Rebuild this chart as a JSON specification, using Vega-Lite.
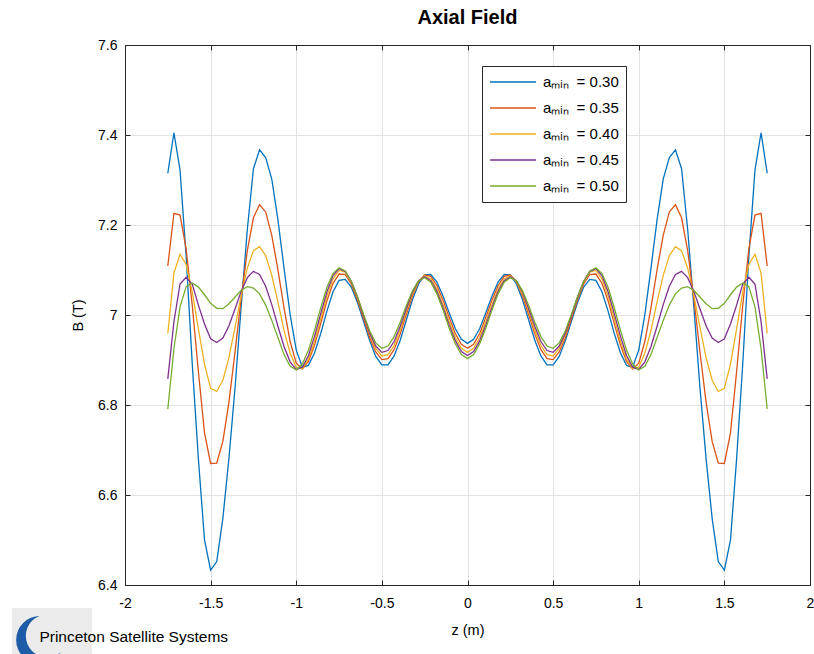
{
"$schema":"https://vega.github.io/schema/vega-lite/v6.json",
"autosize":{"type":"none"},
"padding":{"left":125,"top":45,"right":4,"bottom":69},
"width":685,"height":540,
"background":"white",
"config":{"font":"Liberation Sans","view":{"stroke":null}},
"title":{"text":"Axial Field","fontSize":20,"fontWeight":"bold","color":"black","offset":10,"anchor":"middle"},
"data":{"values":[
{"s":"0.30","z":-1.75,"B":7.315},{"s":"0.30","z":-1.7143,"B":7.405},{"s":"0.30","z":-1.6786,"B":7.322},{"s":"0.30","z":-1.6429,"B":7.13},{"s":"0.30","z":-1.6071,"B":6.89},{"s":"0.30","z":-1.5714,"B":6.68},{"s":"0.30","z":-1.5357,"B":6.5},{"s":"0.30","z":-1.5,"B":6.433},{"s":"0.30","z":-1.4643,"B":6.452},{"s":"0.30","z":-1.4286,"B":6.548},{"s":"0.30","z":-1.3929,"B":6.682},{"s":"0.30","z":-1.3571,"B":6.84},{"s":"0.30","z":-1.3214,"B":7.02},{"s":"0.30","z":-1.2857,"B":7.19},{"s":"0.30","z":-1.25,"B":7.325},{"s":"0.30","z":-1.2143,"B":7.367},{"s":"0.30","z":-1.1786,"B":7.35},{"s":"0.30","z":-1.1429,"B":7.302},{"s":"0.30","z":-1.1071,"B":7.212},{"s":"0.30","z":-1.0714,"B":7.104},{"s":"0.30","z":-1.0357,"B":7.001},{"s":"0.30","z":-1,"B":6.922},{"s":"0.30","z":-0.9643,"B":6.884},{"s":"0.30","z":-0.9286,"B":6.888},{"s":"0.30","z":-0.8929,"B":6.916},{"s":"0.30","z":-0.8571,"B":6.959},{"s":"0.30","z":-0.8214,"B":7.008},{"s":"0.30","z":-0.7857,"B":7.051},{"s":"0.30","z":-0.75,"B":7.077},{"s":"0.30","z":-0.7143,"B":7.079},{"s":"0.30","z":-0.6786,"B":7.062},{"s":"0.30","z":-0.6429,"B":7.028},{"s":"0.30","z":-0.6071,"B":6.986},{"s":"0.30","z":-0.5714,"B":6.943},{"s":"0.30","z":-0.5357,"B":6.908},{"s":"0.30","z":-0.5,"B":6.889},{"s":"0.30","z":-0.4643,"B":6.889},{"s":"0.30","z":-0.4286,"B":6.909},{"s":"0.30","z":-0.3929,"B":6.944},{"s":"0.30","z":-0.3571,"B":6.989},{"s":"0.30","z":-0.3214,"B":7.034},{"s":"0.30","z":-0.2857,"B":7.069},{"s":"0.30","z":-0.25,"B":7.089},{"s":"0.30","z":-0.2143,"B":7.09},{"s":"0.30","z":-0.1786,"B":7.073},{"s":"0.30","z":-0.1429,"B":7.042},{"s":"0.30","z":-0.1071,"B":7.005},{"s":"0.30","z":-0.0714,"B":6.97},{"s":"0.30","z":-0.0357,"B":6.946},{"s":"0.30","z":0,"B":6.937},
{"s":"0.30","z":0.0357,"B":6.946},{"s":"0.30","z":0.0714,"B":6.97},{"s":"0.30","z":0.1071,"B":7.005},{"s":"0.30","z":0.1429,"B":7.042},{"s":"0.30","z":0.1786,"B":7.073},{"s":"0.30","z":0.2143,"B":7.09},{"s":"0.30","z":0.25,"B":7.089},{"s":"0.30","z":0.2857,"B":7.069},{"s":"0.30","z":0.3214,"B":7.034},{"s":"0.30","z":0.3571,"B":6.989},{"s":"0.30","z":0.3929,"B":6.944},{"s":"0.30","z":0.4286,"B":6.909},{"s":"0.30","z":0.4643,"B":6.889},{"s":"0.30","z":0.5,"B":6.889},{"s":"0.30","z":0.5357,"B":6.908},{"s":"0.30","z":0.5714,"B":6.943},{"s":"0.30","z":0.6071,"B":6.986},{"s":"0.30","z":0.6429,"B":7.028},{"s":"0.30","z":0.6786,"B":7.062},{"s":"0.30","z":0.7143,"B":7.079},{"s":"0.30","z":0.75,"B":7.077},{"s":"0.30","z":0.7857,"B":7.051},{"s":"0.30","z":0.8214,"B":7.008},{"s":"0.30","z":0.8571,"B":6.959},{"s":"0.30","z":0.8929,"B":6.916},{"s":"0.30","z":0.9286,"B":6.888},{"s":"0.30","z":0.9643,"B":6.884},{"s":"0.30","z":1,"B":6.922},{"s":"0.30","z":1.0357,"B":7.001},{"s":"0.30","z":1.0714,"B":7.104},{"s":"0.30","z":1.1071,"B":7.212},{"s":"0.30","z":1.1429,"B":7.302},{"s":"0.30","z":1.1786,"B":7.35},{"s":"0.30","z":1.2143,"B":7.367},{"s":"0.30","z":1.25,"B":7.325},{"s":"0.30","z":1.2857,"B":7.19},{"s":"0.30","z":1.3214,"B":7.02},{"s":"0.30","z":1.3571,"B":6.84},{"s":"0.30","z":1.3929,"B":6.682},{"s":"0.30","z":1.4286,"B":6.548},{"s":"0.30","z":1.4643,"B":6.452},{"s":"0.30","z":1.5,"B":6.433},{"s":"0.30","z":1.5357,"B":6.5},{"s":"0.30","z":1.5714,"B":6.68},{"s":"0.30","z":1.6071,"B":6.89},{"s":"0.30","z":1.6429,"B":7.13},{"s":"0.30","z":1.6786,"B":7.322},{"s":"0.30","z":1.7143,"B":7.405},{"s":"0.30","z":1.75,"B":7.315},
{"s":"0.35","z":-1.75,"B":7.109},{"s":"0.35","z":-1.7143,"B":7.226},{"s":"0.35","z":-1.6786,"B":7.222},{"s":"0.35","z":-1.6429,"B":7.147},{"s":"0.35","z":-1.6071,"B":7.021},{"s":"0.35","z":-1.5714,"B":6.874},{"s":"0.35","z":-1.5357,"B":6.738},{"s":"0.35","z":-1.5,"B":6.67},{"s":"0.35","z":-1.4643,"B":6.671},{"s":"0.35","z":-1.4286,"B":6.719},{"s":"0.35","z":-1.3929,"B":6.807},{"s":"0.35","z":-1.3571,"B":6.919},{"s":"0.35","z":-1.3214,"B":7.038},{"s":"0.35","z":-1.2857,"B":7.143},{"s":"0.35","z":-1.25,"B":7.216},{"s":"0.35","z":-1.2143,"B":7.245},{"s":"0.35","z":-1.1786,"B":7.229},{"s":"0.35","z":-1.1429,"B":7.177},{"s":"0.35","z":-1.1071,"B":7.101},{"s":"0.35","z":-1.0714,"B":7.016},{"s":"0.35","z":-1.0357,"B":6.941},{"s":"0.35","z":-1,"B":6.893},{"s":"0.35","z":-0.9643,"B":6.88},{"s":"0.35","z":-0.9286,"B":6.897},{"s":"0.35","z":-0.8929,"B":6.933},{"s":"0.35","z":-0.8571,"B":6.981},{"s":"0.35","z":-0.8214,"B":7.031},{"s":"0.35","z":-0.7857,"B":7.07},{"s":"0.35","z":-0.75,"B":7.091},{"s":"0.35","z":-0.7143,"B":7.09},{"s":"0.35","z":-0.6786,"B":7.069},{"s":"0.35","z":-0.6429,"B":7.034},{"s":"0.35","z":-0.6071,"B":6.992},{"s":"0.35","z":-0.5714,"B":6.95},{"s":"0.35","z":-0.5357,"B":6.918},{"s":"0.35","z":-0.5,"B":6.901},{"s":"0.35","z":-0.4643,"B":6.903},{"s":"0.35","z":-0.4286,"B":6.923},{"s":"0.35","z":-0.3929,"B":6.958},{"s":"0.35","z":-0.3571,"B":7.001},{"s":"0.35","z":-0.3214,"B":7.042},{"s":"0.35","z":-0.2857,"B":7.074},{"s":"0.35","z":-0.25,"B":7.089},{"s":"0.35","z":-0.2143,"B":7.086},{"s":"0.35","z":-0.1786,"B":7.065},{"s":"0.35","z":-0.1429,"B":7.033},{"s":"0.35","z":-0.1071,"B":6.995},{"s":"0.35","z":-0.0714,"B":6.959},{"s":"0.35","z":-0.0357,"B":6.935},{"s":"0.35","z":0,"B":6.926},
{"s":"0.35","z":0.0357,"B":6.935},{"s":"0.35","z":0.0714,"B":6.959},{"s":"0.35","z":0.1071,"B":6.995},{"s":"0.35","z":0.1429,"B":7.033},{"s":"0.35","z":0.1786,"B":7.065},{"s":"0.35","z":0.2143,"B":7.086},{"s":"0.35","z":0.25,"B":7.089},{"s":"0.35","z":0.2857,"B":7.074},{"s":"0.35","z":0.3214,"B":7.042},{"s":"0.35","z":0.3571,"B":7.001},{"s":"0.35","z":0.3929,"B":6.958},{"s":"0.35","z":0.4286,"B":6.923},{"s":"0.35","z":0.4643,"B":6.903},{"s":"0.35","z":0.5,"B":6.901},{"s":"0.35","z":0.5357,"B":6.918},{"s":"0.35","z":0.5714,"B":6.95},{"s":"0.35","z":0.6071,"B":6.992},{"s":"0.35","z":0.6429,"B":7.034},{"s":"0.35","z":0.6786,"B":7.069},{"s":"0.35","z":0.7143,"B":7.09},{"s":"0.35","z":0.75,"B":7.091},{"s":"0.35","z":0.7857,"B":7.07},{"s":"0.35","z":0.8214,"B":7.031},{"s":"0.35","z":0.8571,"B":6.981},{"s":"0.35","z":0.8929,"B":6.933},{"s":"0.35","z":0.9286,"B":6.897},{"s":"0.35","z":0.9643,"B":6.88},{"s":"0.35","z":1,"B":6.893},{"s":"0.35","z":1.0357,"B":6.941},{"s":"0.35","z":1.0714,"B":7.016},{"s":"0.35","z":1.1071,"B":7.101},{"s":"0.35","z":1.1429,"B":7.177},{"s":"0.35","z":1.1786,"B":7.229},{"s":"0.35","z":1.2143,"B":7.245},{"s":"0.35","z":1.25,"B":7.216},{"s":"0.35","z":1.2857,"B":7.143},{"s":"0.35","z":1.3214,"B":7.038},{"s":"0.35","z":1.3571,"B":6.919},{"s":"0.35","z":1.3929,"B":6.807},{"s":"0.35","z":1.4286,"B":6.719},{"s":"0.35","z":1.4643,"B":6.671},{"s":"0.35","z":1.5,"B":6.67},{"s":"0.35","z":1.5357,"B":6.738},{"s":"0.35","z":1.5714,"B":6.874},{"s":"0.35","z":1.6071,"B":7.021},{"s":"0.35","z":1.6429,"B":7.147},{"s":"0.35","z":1.6786,"B":7.222},{"s":"0.35","z":1.7143,"B":7.226},{"s":"0.35","z":1.75,"B":7.109},
{"s":"0.40","z":-1.75,"B":6.959},{"s":"0.40","z":-1.7143,"B":7.093},{"s":"0.40","z":-1.6786,"B":7.135},{"s":"0.40","z":-1.6429,"B":7.112},{"s":"0.40","z":-1.6071,"B":7.051},{"s":"0.40","z":-1.5714,"B":6.969},{"s":"0.40","z":-1.5357,"B":6.891},{"s":"0.40","z":-1.5,"B":6.837},{"s":"0.40","z":-1.4643,"B":6.83},{"s":"0.40","z":-1.4286,"B":6.855},{"s":"0.40","z":-1.3929,"B":6.906},{"s":"0.40","z":-1.3571,"B":6.973},{"s":"0.40","z":-1.3214,"B":7.044},{"s":"0.40","z":-1.2857,"B":7.104},{"s":"0.40","z":-1.25,"B":7.143},{"s":"0.40","z":-1.2143,"B":7.152},{"s":"0.40","z":-1.1786,"B":7.132},{"s":"0.40","z":-1.1429,"B":7.088},{"s":"0.40","z":-1.1071,"B":7.029},{"s":"0.40","z":-1.0714,"B":6.966},{"s":"0.40","z":-1.0357,"B":6.915},{"s":"0.40","z":-1,"B":6.884},{"s":"0.40","z":-0.9643,"B":6.881},{"s":"0.40","z":-0.9286,"B":6.902},{"s":"0.40","z":-0.8929,"B":6.942},{"s":"0.40","z":-0.8571,"B":6.992},{"s":"0.40","z":-0.8214,"B":7.042},{"s":"0.40","z":-0.7857,"B":7.08},{"s":"0.40","z":-0.75,"B":7.099},{"s":"0.40","z":-0.7143,"B":7.095},{"s":"0.40","z":-0.6786,"B":7.074},{"s":"0.40","z":-0.6429,"B":7.039},{"s":"0.40","z":-0.6071,"B":6.998},{"s":"0.40","z":-0.5714,"B":6.957},{"s":"0.40","z":-0.5357,"B":6.926},{"s":"0.40","z":-0.5,"B":6.909},{"s":"0.40","z":-0.4643,"B":6.912},{"s":"0.40","z":-0.4286,"B":6.932},{"s":"0.40","z":-0.3929,"B":6.967},{"s":"0.40","z":-0.3571,"B":7.008},{"s":"0.40","z":-0.3214,"B":7.047},{"s":"0.40","z":-0.2857,"B":7.075},{"s":"0.40","z":-0.25,"B":7.087},{"s":"0.40","z":-0.2143,"B":7.08},{"s":"0.40","z":-0.1786,"B":7.057},{"s":"0.40","z":-0.1429,"B":7.023},{"s":"0.40","z":-0.1071,"B":6.985},{"s":"0.40","z":-0.0714,"B":6.95},{"s":"0.40","z":-0.0357,"B":6.926},{"s":"0.40","z":0,"B":6.917},
{"s":"0.40","z":0.0357,"B":6.926},{"s":"0.40","z":0.0714,"B":6.95},{"s":"0.40","z":0.1071,"B":6.985},{"s":"0.40","z":0.1429,"B":7.023},{"s":"0.40","z":0.1786,"B":7.057},{"s":"0.40","z":0.2143,"B":7.08},{"s":"0.40","z":0.25,"B":7.087},{"s":"0.40","z":0.2857,"B":7.075},{"s":"0.40","z":0.3214,"B":7.047},{"s":"0.40","z":0.3571,"B":7.008},{"s":"0.40","z":0.3929,"B":6.967},{"s":"0.40","z":0.4286,"B":6.932},{"s":"0.40","z":0.4643,"B":6.912},{"s":"0.40","z":0.5,"B":6.909},{"s":"0.40","z":0.5357,"B":6.926},{"s":"0.40","z":0.5714,"B":6.957},{"s":"0.40","z":0.6071,"B":6.998},{"s":"0.40","z":0.6429,"B":7.039},{"s":"0.40","z":0.6786,"B":7.074},{"s":"0.40","z":0.7143,"B":7.095},{"s":"0.40","z":0.75,"B":7.099},{"s":"0.40","z":0.7857,"B":7.08},{"s":"0.40","z":0.8214,"B":7.042},{"s":"0.40","z":0.8571,"B":6.992},{"s":"0.40","z":0.8929,"B":6.942},{"s":"0.40","z":0.9286,"B":6.902},{"s":"0.40","z":0.9643,"B":6.881},{"s":"0.40","z":1,"B":6.884},{"s":"0.40","z":1.0357,"B":6.915},{"s":"0.40","z":1.0714,"B":6.966},{"s":"0.40","z":1.1071,"B":7.029},{"s":"0.40","z":1.1429,"B":7.088},{"s":"0.40","z":1.1786,"B":7.132},{"s":"0.40","z":1.2143,"B":7.152},{"s":"0.40","z":1.25,"B":7.143},{"s":"0.40","z":1.2857,"B":7.104},{"s":"0.40","z":1.3214,"B":7.044},{"s":"0.40","z":1.3571,"B":6.973},{"s":"0.40","z":1.3929,"B":6.906},{"s":"0.40","z":1.4286,"B":6.855},{"s":"0.40","z":1.4643,"B":6.83},{"s":"0.40","z":1.5,"B":6.837},{"s":"0.40","z":1.5357,"B":6.891},{"s":"0.40","z":1.5714,"B":6.969},{"s":"0.40","z":1.6071,"B":7.051},{"s":"0.40","z":1.6429,"B":7.112},{"s":"0.40","z":1.6786,"B":7.135},{"s":"0.40","z":1.7143,"B":7.093},{"s":"0.40","z":1.75,"B":6.959},
{"s":"0.45","z":-1.75,"B":6.858},{"s":"0.45","z":-1.7143,"B":6.985},{"s":"0.45","z":-1.6786,"B":7.069},{"s":"0.45","z":-1.6429,"B":7.084},{"s":"0.45","z":-1.6071,"B":7.068},{"s":"0.45","z":-1.5714,"B":7.022},{"s":"0.45","z":-1.5357,"B":6.98},{"s":"0.45","z":-1.5,"B":6.947},{"s":"0.45","z":-1.4643,"B":6.939},{"s":"0.45","z":-1.4286,"B":6.949},{"s":"0.45","z":-1.3929,"B":6.976},{"s":"0.45","z":-1.3571,"B":7.014},{"s":"0.45","z":-1.3214,"B":7.053},{"s":"0.45","z":-1.2857,"B":7.083},{"s":"0.45","z":-1.25,"B":7.097},{"s":"0.45","z":-1.2143,"B":7.09},{"s":"0.45","z":-1.1786,"B":7.064},{"s":"0.45","z":-1.1429,"B":7.023},{"s":"0.45","z":-1.1071,"B":6.975},{"s":"0.45","z":-1.0714,"B":6.93},{"s":"0.45","z":-1.0357,"B":6.896},{"s":"0.45","z":-1,"B":6.879},{"s":"0.45","z":-0.9643,"B":6.884},{"s":"0.45","z":-0.9286,"B":6.91},{"s":"0.45","z":-0.8929,"B":6.953},{"s":"0.45","z":-0.8571,"B":7.003},{"s":"0.45","z":-0.8214,"B":7.051},{"s":"0.45","z":-0.7857,"B":7.087},{"s":"0.45","z":-0.75,"B":7.103},{"s":"0.45","z":-0.7143,"B":7.097},{"s":"0.45","z":-0.6786,"B":7.075},{"s":"0.45","z":-0.6429,"B":7.04},{"s":"0.45","z":-0.6071,"B":6.999},{"s":"0.45","z":-0.5714,"B":6.96},{"s":"0.45","z":-0.5357,"B":6.931},{"s":"0.45","z":-0.5,"B":6.917},{"s":"0.45","z":-0.4643,"B":6.921},{"s":"0.45","z":-0.4286,"B":6.941},{"s":"0.45","z":-0.3929,"B":6.975},{"s":"0.45","z":-0.3571,"B":7.014},{"s":"0.45","z":-0.3214,"B":7.051},{"s":"0.45","z":-0.2857,"B":7.076},{"s":"0.45","z":-0.25,"B":7.085},{"s":"0.45","z":-0.2143,"B":7.076},{"s":"0.45","z":-0.1786,"B":7.052},{"s":"0.45","z":-0.1429,"B":7.017},{"s":"0.45","z":-0.1071,"B":6.978},{"s":"0.45","z":-0.0714,"B":6.943},{"s":"0.45","z":-0.0357,"B":6.919},{"s":"0.45","z":0,"B":6.91},
{"s":"0.45","z":0.0357,"B":6.919},{"s":"0.45","z":0.0714,"B":6.943},{"s":"0.45","z":0.1071,"B":6.978},{"s":"0.45","z":0.1429,"B":7.017},{"s":"0.45","z":0.1786,"B":7.052},{"s":"0.45","z":0.2143,"B":7.076},{"s":"0.45","z":0.25,"B":7.085},{"s":"0.45","z":0.2857,"B":7.076},{"s":"0.45","z":0.3214,"B":7.051},{"s":"0.45","z":0.3571,"B":7.014},{"s":"0.45","z":0.3929,"B":6.975},{"s":"0.45","z":0.4286,"B":6.941},{"s":"0.45","z":0.4643,"B":6.921},{"s":"0.45","z":0.5,"B":6.917},{"s":"0.45","z":0.5357,"B":6.931},{"s":"0.45","z":0.5714,"B":6.96},{"s":"0.45","z":0.6071,"B":6.999},{"s":"0.45","z":0.6429,"B":7.04},{"s":"0.45","z":0.6786,"B":7.075},{"s":"0.45","z":0.7143,"B":7.097},{"s":"0.45","z":0.75,"B":7.103},{"s":"0.45","z":0.7857,"B":7.087},{"s":"0.45","z":0.8214,"B":7.051},{"s":"0.45","z":0.8571,"B":7.003},{"s":"0.45","z":0.8929,"B":6.953},{"s":"0.45","z":0.9286,"B":6.91},{"s":"0.45","z":0.9643,"B":6.884},{"s":"0.45","z":1,"B":6.879},{"s":"0.45","z":1.0357,"B":6.896},{"s":"0.45","z":1.0714,"B":6.93},{"s":"0.45","z":1.1071,"B":6.975},{"s":"0.45","z":1.1429,"B":7.023},{"s":"0.45","z":1.1786,"B":7.064},{"s":"0.45","z":1.2143,"B":7.09},{"s":"0.45","z":1.25,"B":7.097},{"s":"0.45","z":1.2857,"B":7.083},{"s":"0.45","z":1.3214,"B":7.053},{"s":"0.45","z":1.3571,"B":7.014},{"s":"0.45","z":1.3929,"B":6.976},{"s":"0.45","z":1.4286,"B":6.949},{"s":"0.45","z":1.4643,"B":6.939},{"s":"0.45","z":1.5,"B":6.947},{"s":"0.45","z":1.5357,"B":6.98},{"s":"0.45","z":1.5714,"B":7.022},{"s":"0.45","z":1.6071,"B":7.068},{"s":"0.45","z":1.6429,"B":7.084},{"s":"0.45","z":1.6786,"B":7.069},{"s":"0.45","z":1.7143,"B":6.985},{"s":"0.45","z":1.75,"B":6.858},
{"s":"0.50","z":-1.75,"B":6.791},{"s":"0.50","z":-1.7143,"B":6.925},{"s":"0.50","z":-1.6786,"B":7.018},{"s":"0.50","z":-1.6429,"B":7.063},{"s":"0.50","z":-1.6071,"B":7.071},{"s":"0.50","z":-1.5714,"B":7.062},{"s":"0.50","z":-1.5357,"B":7.045},{"s":"0.50","z":-1.5,"B":7.026},{"s":"0.50","z":-1.4643,"B":7.015},{"s":"0.50","z":-1.4286,"B":7.014},{"s":"0.50","z":-1.3929,"B":7.025},{"s":"0.50","z":-1.3571,"B":7.04},{"s":"0.50","z":-1.3214,"B":7.055},{"s":"0.50","z":-1.2857,"B":7.063},{"s":"0.50","z":-1.25,"B":7.06},{"s":"0.50","z":-1.2143,"B":7.047},{"s":"0.50","z":-1.1786,"B":7.022},{"s":"0.50","z":-1.1429,"B":6.988},{"s":"0.50","z":-1.1071,"B":6.95},{"s":"0.50","z":-1.0714,"B":6.912},{"s":"0.50","z":-1.0357,"B":6.886},{"s":"0.50","z":-1,"B":6.878},{"s":"0.50","z":-0.9643,"B":6.891},{"s":"0.50","z":-0.9286,"B":6.922},{"s":"0.50","z":-0.8929,"B":6.967},{"s":"0.50","z":-0.8571,"B":7.016},{"s":"0.50","z":-0.8214,"B":7.061},{"s":"0.50","z":-0.7857,"B":7.092},{"s":"0.50","z":-0.75,"B":7.105},{"s":"0.50","z":-0.7143,"B":7.098},{"s":"0.50","z":-0.6786,"B":7.075},{"s":"0.50","z":-0.6429,"B":7.041},{"s":"0.50","z":-0.6071,"B":7.002},{"s":"0.50","z":-0.5714,"B":6.965},{"s":"0.50","z":-0.5357,"B":6.938},{"s":"0.50","z":-0.5,"B":6.926},{"s":"0.50","z":-0.4643,"B":6.931},{"s":"0.50","z":-0.4286,"B":6.952},{"s":"0.50","z":-0.3929,"B":6.984},{"s":"0.50","z":-0.3571,"B":7.021},{"s":"0.50","z":-0.3214,"B":7.054},{"s":"0.50","z":-0.2857,"B":7.076},{"s":"0.50","z":-0.25,"B":7.083},{"s":"0.50","z":-0.2143,"B":7.073},{"s":"0.50","z":-0.1786,"B":7.047},{"s":"0.50","z":-0.1429,"B":7.011},{"s":"0.50","z":-0.1071,"B":6.971},{"s":"0.50","z":-0.0714,"B":6.936},{"s":"0.50","z":-0.0357,"B":6.912},{"s":"0.50","z":0,"B":6.903},
{"s":"0.50","z":0.0357,"B":6.912},{"s":"0.50","z":0.0714,"B":6.936},{"s":"0.50","z":0.1071,"B":6.971},{"s":"0.50","z":0.1429,"B":7.011},{"s":"0.50","z":0.1786,"B":7.047},{"s":"0.50","z":0.2143,"B":7.073},{"s":"0.50","z":0.25,"B":7.083},{"s":"0.50","z":0.2857,"B":7.076},{"s":"0.50","z":0.3214,"B":7.054},{"s":"0.50","z":0.3571,"B":7.021},{"s":"0.50","z":0.3929,"B":6.984},{"s":"0.50","z":0.4286,"B":6.952},{"s":"0.50","z":0.4643,"B":6.931},{"s":"0.50","z":0.5,"B":6.926},{"s":"0.50","z":0.5357,"B":6.938},{"s":"0.50","z":0.5714,"B":6.965},{"s":"0.50","z":0.6071,"B":7.002},{"s":"0.50","z":0.6429,"B":7.041},{"s":"0.50","z":0.6786,"B":7.075},{"s":"0.50","z":0.7143,"B":7.098},{"s":"0.50","z":0.75,"B":7.105},{"s":"0.50","z":0.7857,"B":7.092},{"s":"0.50","z":0.8214,"B":7.061},{"s":"0.50","z":0.8571,"B":7.016},{"s":"0.50","z":0.8929,"B":6.967},{"s":"0.50","z":0.9286,"B":6.922},{"s":"0.50","z":0.9643,"B":6.891},{"s":"0.50","z":1,"B":6.878},{"s":"0.50","z":1.0357,"B":6.886},{"s":"0.50","z":1.0714,"B":6.912},{"s":"0.50","z":1.1071,"B":6.95},{"s":"0.50","z":1.1429,"B":6.988},{"s":"0.50","z":1.1786,"B":7.022},{"s":"0.50","z":1.2143,"B":7.047},{"s":"0.50","z":1.25,"B":7.06},{"s":"0.50","z":1.2857,"B":7.063},{"s":"0.50","z":1.3214,"B":7.055},{"s":"0.50","z":1.3571,"B":7.04},{"s":"0.50","z":1.3929,"B":7.025},{"s":"0.50","z":1.4286,"B":7.014},{"s":"0.50","z":1.4643,"B":7.015},{"s":"0.50","z":1.5,"B":7.026},{"s":"0.50","z":1.5357,"B":7.045},{"s":"0.50","z":1.5714,"B":7.062},{"s":"0.50","z":1.6071,"B":7.071},{"s":"0.50","z":1.6429,"B":7.063},{"s":"0.50","z":1.6786,"B":7.018},{"s":"0.50","z":1.7143,"B":6.925},{"s":"0.50","z":1.75,"B":6.791}
]},
"layer":[
{"mark":{"type":"line","strokeWidth":1.3},
 "encoding":{
  "x":{"field":"z","type":"quantitative","scale":{"domain":[-2,2],"nice":false,"zero":false},
   "axis":{"orient":"bottom","values":[-2,-1.5,-1,-0.5,0,0.5,1,1.5,2],"labelExpr":"datum.value < 0 ? '-' + format(-datum.value, '~g') : format(datum.value, '~g')","title":"z (m)","titleFontSize":14.5,"titleFontWeight":"normal","titleColor":"black","titlePadding":13,"labelFontSize":14,"labelColor":"black","labelPadding":16,"labelFlush":false,"tickSize":-5,"tickColor":"#262626","domainColor":"#262626","grid":true,"gridColor":"#e3e3e3","gridWidth":1}},
  "y":{"field":"B","type":"quantitative","scale":{"domain":[6.4,7.6],"nice":false,"zero":false},
   "axis":{"orient":"left","values":[6.4,6.6,6.8,7,7.2,7.4,7.6],"labelExpr":"format(datum.value, '~g')","title":"B (T)","titleFontSize":14.5,"titleFontWeight":"normal","titleColor":"black","titlePadding":12,"labelFontSize":14,"labelColor":"black","labelPadding":13,"labelFlush":false,"tickSize":-5,"tickColor":"#262626","domainColor":"#262626","grid":true,"gridColor":"#e3e3e3","gridWidth":1}},
  "color":{"field":"s","type":"nominal","scale":{"domain":["0.30","0.35","0.40","0.45","0.50"],"range":["#0072BD","#D95319","#EDB120","#7E2F8E","#77AC30"]},
   "legend":{"orient":"none","legendX":357,"legendY":21,"title":null,"symbolType":"stroke","symbolSize":2116,"symbolStrokeWidth":1.3,"clipHeight":18,"labelFontSize":15,"labelColor":"black","labelOffset":6,"strokeColor":"#262626","fillColor":"white","padding":7,"rowPadding":8,"labelExpr":"'aₘᵢₙ\u2005 = ' + datum.label"}}
 }},
{"mark":{"type":"line","strokeOpacity":0},
 "encoding":{
  "x":{"field":"z","type":"quantitative","scale":{"domain":[-2,2],"nice":false,"zero":false},
   "axis":{"orient":"top","values":[-2,-1.5,-1,-0.5,0,0.5,1,1.5,2],"labels":false,"title":null,"tickSize":-5,"tickColor":"#262626","domainColor":"#262626","grid":false}},
  "y":{"field":"B","type":"quantitative","scale":{"domain":[6.4,7.6],"nice":false,"zero":false},
   "axis":{"orient":"right","values":[6.4,6.6,6.8,7,7.2,7.4,7.6],"labels":false,"title":null,"tickSize":-5,"tickColor":"#262626","domainColor":"#262626","grid":false}}
 }},
{"data":{"values":[{}]},
 "mark":{"type":"rect","color":"#ebebeb"},
 "encoding":{"x":{"datum":-2.66,"type":"quantitative","axis":null},"x2":{"datum":-2.193},"y":{"datum":6.349,"type":"quantitative","axis":null},"y2":{"datum":6.24}}},
{"data":{"values":[{}]},
 "mark":{"type":"point","shape":"circle","filled":true,"size":2290,"color":"#1d5ba6","opacity":1},
 "encoding":{"x":{"datum":-2.496,"type":"quantitative","axis":null},"y":{"datum":6.278,"type":"quantitative","axis":null}}},
{"data":{"values":[{}]},
 "mark":{"type":"point","shape":"circle","filled":true,"size":1810,"color":"#ebebeb","opacity":1},
 "encoding":{"x":{"datum":-2.455,"type":"quantitative","axis":null},"y":{"datum":6.287,"type":"quantitative","axis":null}}},
{"data":{"values":[{}]},
 "mark":{"type":"text","text":"Princeton Satellite Systems","align":"left","baseline":"middle","fontSize":15.5,"color":"black"},
 "encoding":{"x":{"datum":-2.5,"type":"quantitative","axis":null},"y":{"datum":6.285,"type":"quantitative","axis":null}}}
],
"resolve":{"axis":{"x":"independent","y":"independent"}}
}
